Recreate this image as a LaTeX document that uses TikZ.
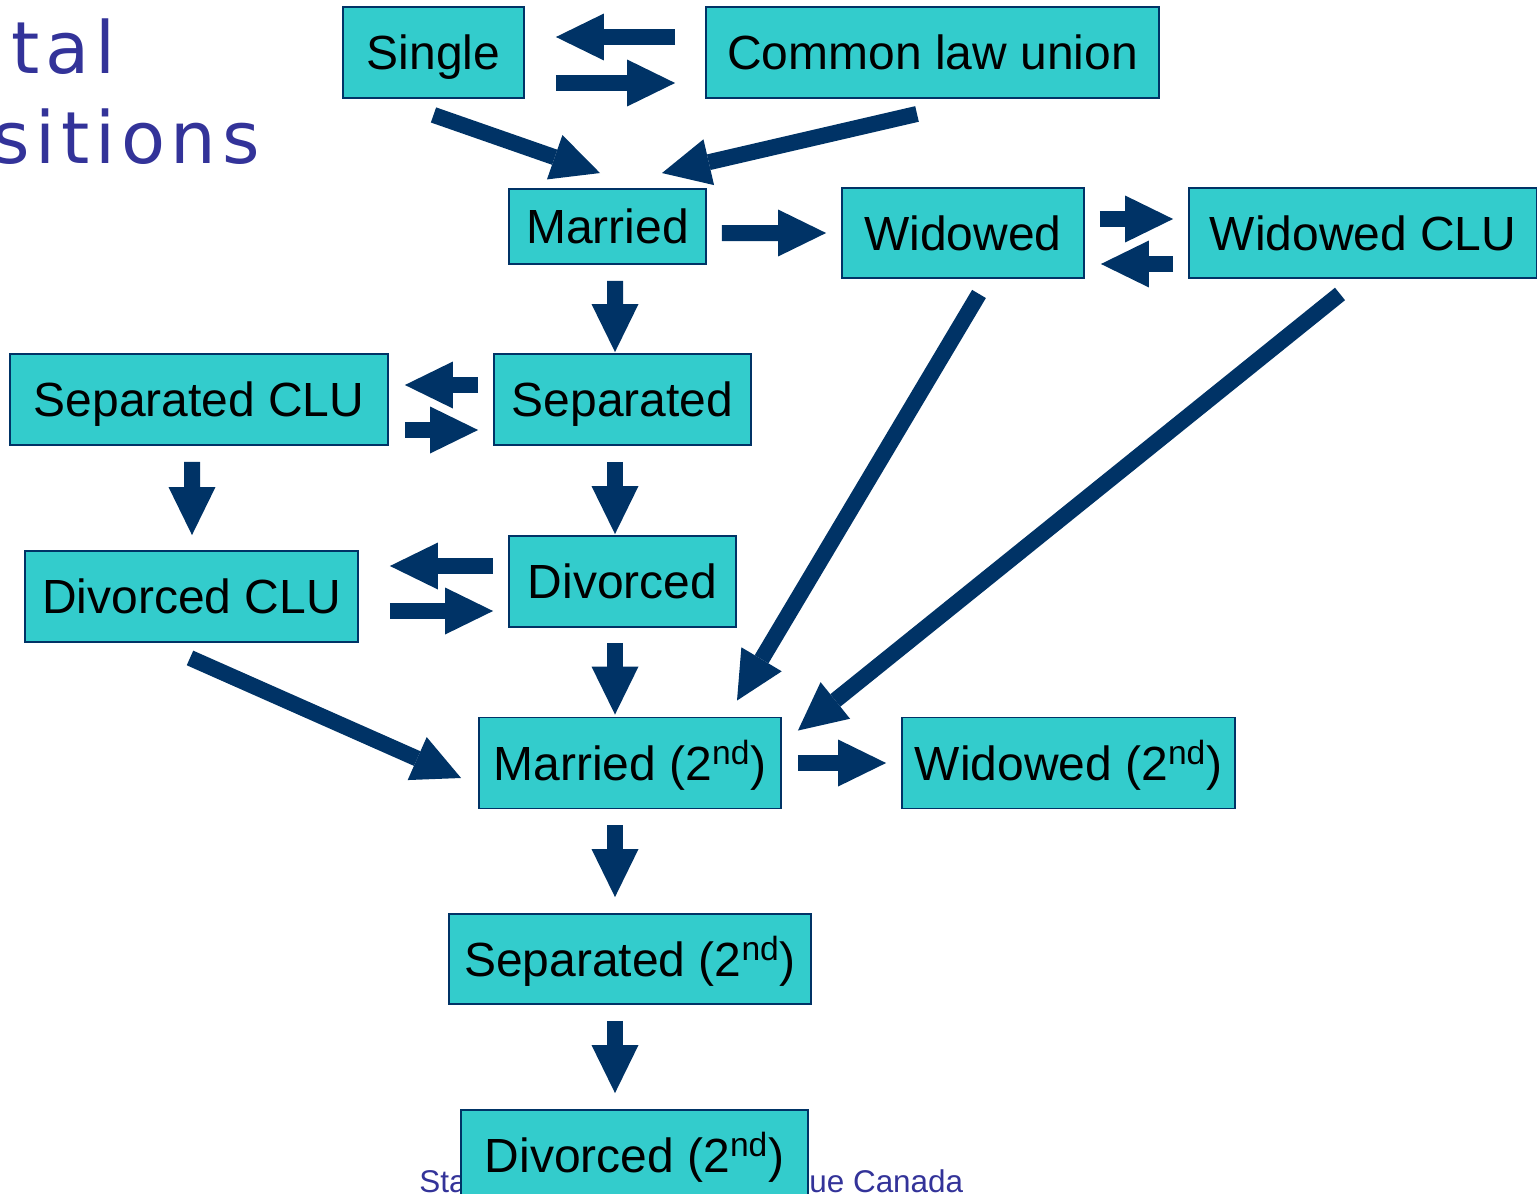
\documentclass[tikz,border=0pt]{standalone}
\usepackage{fontspec}
\setmainfont{Liberation Sans}
\newfontfamily\titlefont[LetterSpace=8]{DejaVu Sans}
\usetikzlibrary{arrows.meta, calc}

\definecolor{boxfill}{RGB}{51,204,204}
\definecolor{navy}{RGB}{0,51,102}
\definecolor{titleblue}{RGB}{51,51,153}

\begin{document}
\begin{tikzpicture}[x=0.02cm, y=-0.02cm,
        state/.style={draw=navy, line width=1.1pt, fill=boxfill, inner sep=0pt,
            minimum height=1.82cm, text height=0.69cm, text depth=0pt,
            font=\fontsize{27.3}{30}\selectfont},
        blk/.style={navy, line width=0.32cm,
            -{Triangle[width=0.94cm, length=0.96cm, line width=0pt]}},
        slide/.style={anchor=base west, inner sep=0pt, text=titleblue}]
        \useasboundingbox (0,0) rectangle (1537,1193);
        % slide title and footer, partly cut off
        \node[slide, font=\titlefont\fontsize{41}{45}\selectfont] (title1) at (11,73) {tal};
        \node[slide, font=\titlefont\fontsize{41}{45}\selectfont] (title2) at (-8,163) {sitions};
        \node[slide, font=\fontsize{17.9}{20}\selectfont] (foot1) at (419,1192) {Sta};
        \node[slide, font=\fontsize{17.9}{20}\selectfont] (foot2) at (809,1192) {ue Canada};
        % states
        \node[state, minimum width=3.62cm] (single) at (433.5,52.5) {Single};
        \node[state, minimum width=9.06cm] (clu) at (932.5,52.5) {Common law union};
        \node[state, minimum width=3.94cm, minimum height=1.5cm] (married) at (607.5,226.5) {Married};
        \node[state, minimum width=4.84cm, minimum height=1.8cm] (widowed) at (963,233) {Widowed};
        \node[state, minimum width=6.96cm, minimum height=1.8cm] (widclu) at (1363,233) {Widowed CLU};
        \node[state, minimum width=7.56cm] (sepclu) at (199,399.5) {Separated CLU};
        \node[state, minimum width=5.14cm] (sep) at (622.5,399.5) {Separated};
        \node[state, minimum width=6.66cm] (divclu) at (191.5,596.5) {Divorced CLU};
        \node[state, minimum width=4.54cm] (div) at (622.5,581.5) {Divorced};
        \node[state, minimum width=6.04cm] (mar2) at (630,763) {Married (2\textsuperscript{nd})};
        \node[state, minimum width=6.66cm] (wid2) at (1068.5,763) {Widowed (2\textsuperscript{nd})};
        \node[state, minimum width=7.24cm, minimum height=1.8cm] (sep2) at (630,959) {Separated (2\textsuperscript{nd})};
        \node[state, minimum width=6.94cm] (div2) at (634.5,1155.5) {Divorced (2\textsuperscript{nd})};
        % transitions
        \draw[blk] ($(clu.west)+(-30,-15.5)$) -- ($(single.east)+(31,-15.5)$);
        \draw[blk] ($(single.east)+(31,30.5)$) -- ($(clu.west)+(-30,30.5)$);
        \draw[blk] ($(single.south)+(0,16)$) -- ($(married.north)+(-7.5,-15)$);
        \draw[blk] ($(clu.south)+(-15.5,15)$) -- ($(married.north)+(54.5,-15)$);
        \draw[blk] ($(married.east)+(15,6.5)$) -- ($(widowed.west)+(-15,0)$);
        \draw[blk] ($(widowed.east)+(15,-14)$) -- ($(widclu.west)+(-15,-14)$);
        \draw[blk] ($(widclu.west)+(-15,31)$) -- ($(widowed.east)+(16,31)$);
        \draw[blk] ($(married.south)+(7.5,16)$) -- ($(sep.north)+(-7.5,-1)$);
        \draw[blk] ($(sep.west)+(-15,-14.5)$) -- ($(sepclu.east)+(16,-14.5)$);
        \draw[blk] ($(sepclu.east)+(16,30.5)$) -- ($(sep.west)+(-15,30.5)$);
        \draw[blk] ($(sepclu.south)+(-7,16)$) -- ($(divclu.north)+(0.5,-15)$);
        \draw[blk] ($(sep.south)+(-7.5,16)$) -- ($(div.north)+(-7.5,-1)$);
        \draw[blk] ($(div.west)+(-15,-15.5)$) -- ($(divclu.east)+(31,-30.5)$);
        \draw[blk] ($(divclu.east)+(31,14.5)$) -- ($(div.west)+(-15,29.5)$);
        \draw[blk] ($(div.south)+(-7.5,15)$) -- ($(mar2.north)+(-15,-2)$);
        \draw[blk] ($(widowed.south)+(16,15)$) -- ($(mar2.north)+(107,-16)$);
        \draw[blk] ($(widclu.south)+(-23,15)$) -- ($(mar2.north east)+(16,14)$);
        \draw[blk] ($(divclu.south)+(-1.5,15)$) -- ($(mar2.west)+(-17,15)$);
        \draw[blk] ($(mar2.east)+(16,0)$) -- ($(wid2.west)+(-15,0)$);
        \draw[blk] ($(mar2.south)+(-15,16)$) -- ($(sep2.north)+(-15,-16)$);
        \draw[blk] ($(sep2.south)+(-15,16)$) -- ($(div2.north)+(-19.5,-16)$);
    \end{tikzpicture}
\end{document}
